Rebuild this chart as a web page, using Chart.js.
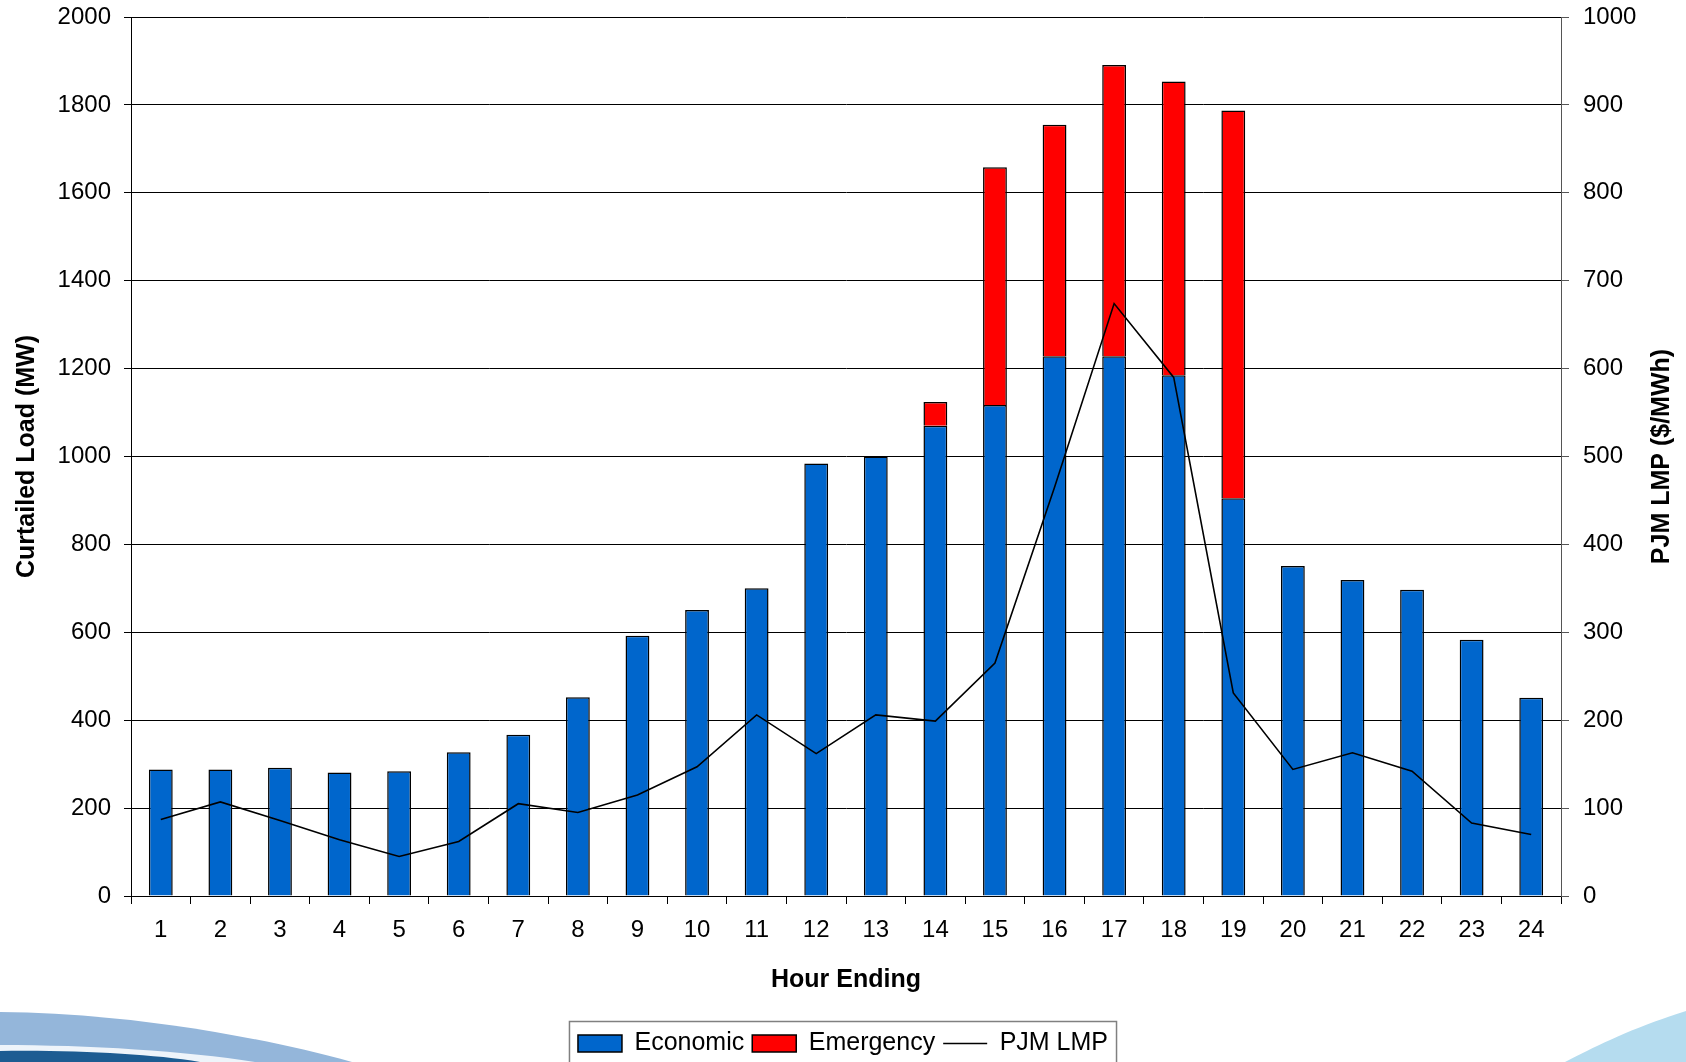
<!DOCTYPE html>
<html>
<head>
<meta charset="utf-8">
<script src="https://cdn.jsdelivr.net/npm/chart.js@4.4.1/dist/chart.umd.min.js"></script>
<style>
  html, body { margin: 0; padding: 0; background: #fff; }
  #wrap { position: relative; width: 1686px; height: 1062px; overflow: hidden; }
  #bg, #myChart { position: absolute; left: 0; top: 0; }
</style>
</head>
<body>
<div id="wrap">
  <!-- swoosh decoration at the bottom of the slide -->
  <svg id="bg" width="1686" height="1062">
    <path d="M0,1012 C120,1013 250,1034 352,1062 L0,1062 Z" fill="#94b6da"/>
    <path d="M0,1045 C90,1045 185,1051 255,1062 L0,1062 Z" fill="#eef4fa"/>
    <path d="M0,1051 C80,1050 150,1054 200,1062 L0,1062 Z" fill="#1d5c92"/>
    <path d="M1686,1011 C1632,1028 1596,1046 1565,1062 L1686,1062 Z" fill="#b5dcef"/>
  </svg>
  <canvas id="myChart" width="1686" height="1062"></canvas>
</div>
<script>
const hours = ['1','2','3','4','5','6','7','8','9','10','11','12',
               '13','14','15','16','17','18','19','20','21','22','23','24'];
const economic = [288, 288, 292, 281, 284, 327, 367, 452, 592, 651, 700, 984,
                  1000, 1070, 1117, 1228, 1228, 1185, 905, 751, 719, 697, 583, 451];
const emergency = [null, null, null, null, null, null, null, null, null, null, null, null,
                   null, 54, 541, 527, 663, 668, 882, null, null, null, null, null];
const lmp = [87, 107, 86, 64, 45, 62, 105, 95, 115, 147, 206, 162,
             206, 199, 265, 465, 674, 590, 231, 144, 163, 142, 83, 70];
const loadTicks = { min: 0, max: 2000, step: 200 };
const priceTicks = { min: 0, max: 1000, step: 100 };
const rightTitle = 'PJM LMP ($/MWh)';

Chart.defaults.font.family = '"Liberation Sans", Arial, sans-serif';
Chart.defaults.color = '#000';

// frame round the legend, like the Excel one
const legendFrame = {
  id: 'legendFrame',
  afterDraw(chart) {
    const boxes = chart.legend.legendHitBoxes;
    if (!boxes || !boxes.length) return;
    const first = boxes[0], last = boxes[boxes.length - 1];
    const cy = first.top + first.height / 2;
    const ctx = chart.ctx;
    ctx.save();
    ctx.strokeStyle = '#808080';
    ctx.lineWidth = 1.5;
    ctx.strokeRect(first.left - 8.5, cy - 22, last.left + last.width - first.left + 17, 60);
    ctx.restore();
  }
};

// right axis title reads bottom to top, as on the left
const rightAxisTitle = {
  id: 'rightAxisTitle',
  afterDraw(chart) {
    const s = chart.scales.y1;
    const ctx = chart.ctx;
    ctx.save();
    ctx.translate(s.right - 24, (s.top + s.bottom) / 2);
    ctx.rotate(-Math.PI / 2);
    ctx.font = 'bold 25px "Liberation Sans", Arial, sans-serif';
    ctx.fillStyle = '#000';
    ctx.textAlign = 'center';
    ctx.textBaseline = 'middle';
    ctx.fillText(rightTitle, 0, 0);
    ctx.restore();
  }
};

const plain = v => String(v);
function fixVertical(width) {
  return s => { s.width = width; s.paddingTop = 0; s.paddingBottom = 0; };
}

const ctx = document.querySelector('#myChart').getContext('2d');
const myChart = new Chart(ctx, {
  data: {
    labels: hours,
    datasets: [
      {
        type: 'bar', label: 'Economic', data: economic,
        backgroundColor: '#0066CC', borderColor: '#000', borderWidth: 1.5,
        barPercentage: 0.4, categoryPercentage: 1.0, yAxisID: 'y', order: 1
      },
      {
        type: 'bar', label: 'Emergency', data: emergency,
        backgroundColor: '#FF0000', borderColor: '#000', borderWidth: 1.5,
        barPercentage: 0.4, categoryPercentage: 1.0, yAxisID: 'y', order: 1
      },
      {
        type: 'line', label: 'PJM LMP', data: lmp,
        borderColor: '#000', backgroundColor: '#000', borderWidth: 1.6,
        pointRadius: 0, tension: 0, fill: false, yAxisID: 'y1', order: 0
      }
    ]
  },
  options: {
    responsive: false,
    animation: false,
    layout: { padding: { top: 17, left: 0, right: 0, bottom: -4 } },
    plugins: {
      tooltip: { enabled: false },
      legend: {
        position: 'bottom',
        labels: {
          font: { size: 25 },
          usePointStyle: true,
          pointStyleWidth: 44,
          boxHeight: 17,
          padding: 8,
          generateLabels(chart) {
            const items = Chart.defaults.plugins.legend.labels.generateLabels(chart);
            items.forEach(it => {
              it.pointStyle = chart.data.datasets[it.datasetIndex].type === 'line' ? 'line' : 'rect';
            });
            items.sort((a, b) => a.datasetIndex - b.datasetIndex);
            return items;
          }
        }
      }
    },
    scales: {
      x: {
        stacked: true,
        grid: { drawOnChartArea: false, drawTicks: true, tickLength: 8, color: '#000', offset: true },
        border: { color: '#000', width: 1 },
        ticks: { font: { size: 24 }, padding: 12, maxRotation: 0, autoSkip: false },
        title: { display: true, text: 'Hour Ending', font: { size: 25, weight: 'bold' }, padding: { top: 0, bottom: 28 } },
        afterFit(s) { s.height = 127; }
      },
      y: {
        position: 'left',
        stacked: true,
        min: loadTicks.min, max: loadTicks.max,
        ticks: { stepSize: loadTicks.step, font: { size: 24 }, padding: 13, callback: plain },
        grid: { color: '#000', tickLength: 7 },
        border: { color: '#000' },
        title: { display: true, text: 'Curtailed Load (MW)', font: { size: 25, weight: 'bold' }, padding: { top: 12, bottom: 0 } },
        afterFit: fixVertical(131)
      },
      y1: {
        position: 'right',
        stacked: false,
        min: priceTicks.min, max: priceTicks.max,
        ticks: { stepSize: priceTicks.step, font: { size: 24 }, padding: 14, callback: plain },
        grid: { drawOnChartArea: false, color: '#555', tickLength: 8 },
        border: { color: '#555' },
        title: { display: false },
        afterFit: fixVertical(125)
      }
    }
  },
  plugins: [legendFrame, rightAxisTitle]
});
</script>
</body>
</html>
